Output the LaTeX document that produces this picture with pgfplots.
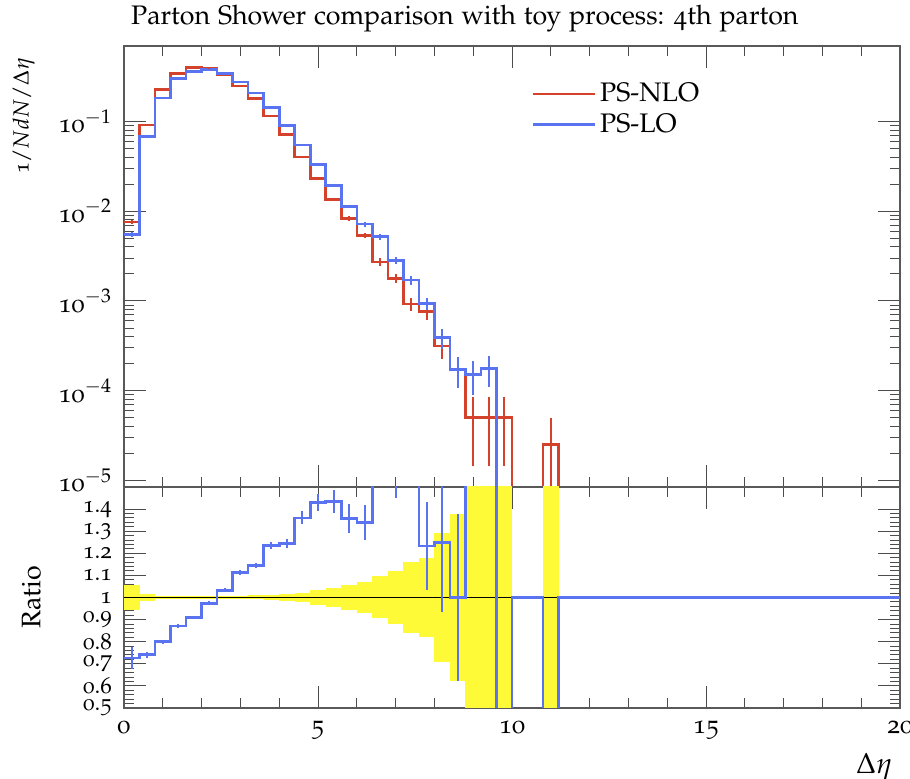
\documentclass[border=0pt]{standalone}
\usepackage[T1]{fontenc}
\usepackage[osf]{mathpazo}
\usepackage{pgfplots}
\usepackage{pgfplotstable}
\pgfplotsset{compat=1.18}

\definecolor{nlo}{RGB}{212,66,44}
\definecolor{lo}{RGB}{90,115,240}
\definecolor{band}{RGB}{255,250,55}

% PS-NLO: left edge, centre, value, error
\pgfplotstableread{
xl xc y e
0 0.2 0.00755 0.000434
0.4 0.6 0.0914 0.00151
0.8 1.0 0.228 0.00239
1.2 1.4 0.344 0.00293
1.6 1.8 0.397 0.00315
2.0 2.2 0.391 0.00313
2.4 2.6 0.330 0.00287
2.8 3.0 0.248 0.00249
3.2 3.4 0.181 0.00213
3.6 3.8 0.115 0.00170
4.0 4.2 0.072 0.00134
4.4 4.6 0.040 0.00100
4.8 5.0 0.0233 0.000763
5.2 5.4 0.0135 0.000581
5.6 5.8 0.0083 0.000456
6.0 6.2 0.00536 0.000366
6.4 6.6 0.00273 0.000261
6.8 7.0 0.00178 0.000211
7.2 7.4 0.00093 0.000153
7.6 7.8 0.00076 0.000138
8.0 8.2 0.000314 0.0000886
8.4 8.6 0.000173 0.0000658
8.8 9.0 0.00005 0.0000354
9.2 9.4 0.00005 0.0000354
9.6 9.8 0.00005 0.0000354
10.0 10.4 1e-9 0
10.8 11.0 0.000025 0.0000249
11.2 15.6 1e-9 0
20 20 1e-9 0
}\redtab

% PS-LO
\pgfplotstableread{
xl xc y e
0 0.2 0.00548 0.00037
0.4 0.6 0.0677 0.0013
0.8 1.0 0.182 0.00213
1.2 1.4 0.300 0.00274
1.6 1.8 0.361 0.0030
2.0 2.2 0.381 0.00309
2.4 2.6 0.341 0.00292
2.8 3.0 0.276 0.00263
3.2 3.4 0.207 0.00228
3.6 3.8 0.142 0.00188
4.0 4.2 0.0896 0.0015
4.4 4.6 0.0544 0.00117
4.8 5.0 0.0333 0.000912
5.2 5.4 0.0193 0.000695
5.6 5.8 0.01127 0.000531
6.0 6.2 0.00718 0.000424
6.4 6.6 0.00519 0.00036
6.8 7.0 0.00284 0.000266
7.2 7.4 0.00171 0.000207
7.6 7.8 0.000937 0.000153
8.0 8.2 0.000393 0.0000991
8.4 8.6 0.000173 0.0000658
8.8 9.0 0.000152 0.0000616
9.2 9.4 0.000177 0.0000665
9.6 14.8 1e-9 0
20 20 1e-9 0
}\bluetab

% ratio PS-LO / PS-NLO
\pgfplotstableread{
xl xc y e
0 0.2 0.726 0.049
0.4 0.6 0.741 0.0142
0.8 1.0 0.800 0.0094
1.2 1.4 0.871 0.008
1.6 1.8 0.910 0.0076
2.0 2.2 0.974 0.0079
2.4 2.6 1.032 0.0088
2.8 3.0 1.114 0.0106
3.2 3.4 1.144 0.0126
3.6 3.8 1.236 0.0164
4.0 4.2 1.244 0.0208
4.4 4.6 1.360 0.0292
4.8 5.0 1.430 0.039
5.2 5.4 1.433 0.0516
5.6 5.8 1.358 0.064
6.0 6.2 1.340 0.079
6.4 6.6 1.900 0.132
6.8 7.0 1.600 0.15
7.2 7.4 1.840 0.22
7.6 7.8 1.233 0.20
8.0 8.2 1.250 0.315
8.4 8.6 1.000 0.38
8.8 9.0 3.04 1.23
9.2 9.4 3.54 1.33
9.6 9.8 0 0
10.0 10.4 1 0
10.8 11.0 0 0
11.2 15.6 1 0
20 20 1 0
}\ratiotab

% PS-NLO relative uncertainty band: bin centre, ratio 1, half width
\pgfplotstableread{
xc c h
0.2 1 0.058
0.6 1 0.015
1.0 1 0.007
1.4 1 0.006
1.8 1 0.006
2.2 1 0.006
2.6 1 0.007
3.0 1 0.008
3.4 1 0.009
3.8 1 0.011
4.2 1 0.014
4.6 1 0.021
5.0 1 0.032
5.4 1 0.045
5.8 1 0.056
6.2 1 0.071
6.6 1 0.095
7.0 1 0.12
7.4 1 0.16
7.8 1 0.18
8.2 1 0.29
8.6 1 0.38
9.0 1 1
9.4 1 1
9.8 1 1
11.0 1 1
}\bandtab

\newcommand{\bigfont}{\fontsize{13.4pt}{16pt}\selectfont}
\newcommand{\tickfont}{\fontsize{13pt}{15pt}\selectfont}

\pgfplotsset{
  rivet/.style={
    scale only axis,
    width=388pt,
    xmin=0, xmax=20,
    axis line style={line width=0.9pt, black!65},
    tick align=inside,
    xtick pos=both, ytick pos=both,
    major tick length=11pt,
    minor tick length=5pt,
    every tick/.style={black!70, line width=0.5pt},
    xtick={0,5,10,15,20},
    minor x tick num=4,
    tick label style={font=\tickfont},
    yticklabel style={xshift=-2.5pt},
    xticklabel style={yshift=-3pt},
    /pgf/number format/assume math mode=true,
  },
  errstyle/.style={draw=none, forget plot, error bars/.cd, y dir=both, y explicit, error mark=none,
    error bar style={line width=1pt, #1}},
}

\begin{document}
\begin{tikzpicture}
\path[use as bounding box] (0pt,0pt) rectangle (455pt,389.5pt);
\begin{axis}[rivet,
  at={(62pt,146pt)}, anchor=south west,
  height=220.5pt,
  ymode=log, ymin=8.47e-6, ymax=0.693,
  xticklabels={},
  ytick={1e-5,1e-4,1e-3,1e-2,1e-1},
  yticklabels={10$^{-5}$,10$^{-4}$,10$^{-3}$,10$^{-2}$,10$^{-1}$},
  title={Parton Shower comparison with toy process: 4th parton},
  title style={at={(rel axis cs:0,1)}, anchor=base west, yshift=4.5pt, font=\bigfont},
  ylabel={1/$NdN/\Delta\eta$},
  ylabel style={at={(rel axis cs:-0.106,0.99)}, anchor=south east, font=\fontsize{11pt}{13pt}\selectfont},
  legend style={at={(rel axis cs:0.517,0.935)}, anchor=north west, draw=none, fill=none,
    font=\bigfont, row sep=0.5pt},
  legend cell align=left,
  legend image code/.code={\draw[#1, line width=1.3pt] (0pt,0pt) -- (31pt,0pt);},
]
\addplot[nlo, line width=1.3pt, const plot mark left] table[x=xl, y=y] {\redtab};
\addlegendentry{PS-NLO}
\addplot[lo, line width=1.3pt, const plot mark left] table[x=xl, y=y] {\bluetab};
\addlegendentry{PS-LO}
\addplot[errstyle=nlo] table[x=xc, y=y, y error=e] {\redtab};
\addplot[errstyle=lo] table[x=xc, y=y, y error=e] {\bluetab};
\end{axis}

\begin{axis}[rivet,
  at={(62pt,35.5pt)}, anchor=south west,
  height=110.5pt,
  ymin=0.5, ymax=1.5,
  ytick={0.5,0.6,0.7,0.8,0.9,1.0,1.1,1.2,1.3,1.4},
  yticklabels={0.5,0.6,0.7,0.8,0.9,1,1.1,1.2,1.3,1.4},
  yticklabel style={font=\fontsize{11.5pt}{13pt}\selectfont},
  minor y tick num=4,
  xlabel={$\Delta\eta$},
  xlabel style={at={(rel axis cs:1,0)}, anchor=north east, yshift=-19pt, font=\fontsize{14.5pt}{17pt}\selectfont},
  ylabel={Ratio},
  ylabel style={at={(rel axis cs:-0.098,0.5)}, anchor=south, font=\bigfont},
]
\addplot[draw=none, forget plot, error bars/.cd, y dir=both, y explicit, error mark=none,
  error bar style={line width=7.85pt, band, line cap=butt}] table[x=xc, y=c, y error=h] {\bandtab};
\addplot[black, line width=0.6pt, forget plot] coordinates {(0,1) (20,1)};
\addplot[lo, line width=1.3pt, const plot mark left] table[x=xl, y=y] {\ratiotab};
\addplot[errstyle=lo] table[x=xc, y=y, y error=e] {\ratiotab};
\end{axis}
\end{tikzpicture}
\end{document}
